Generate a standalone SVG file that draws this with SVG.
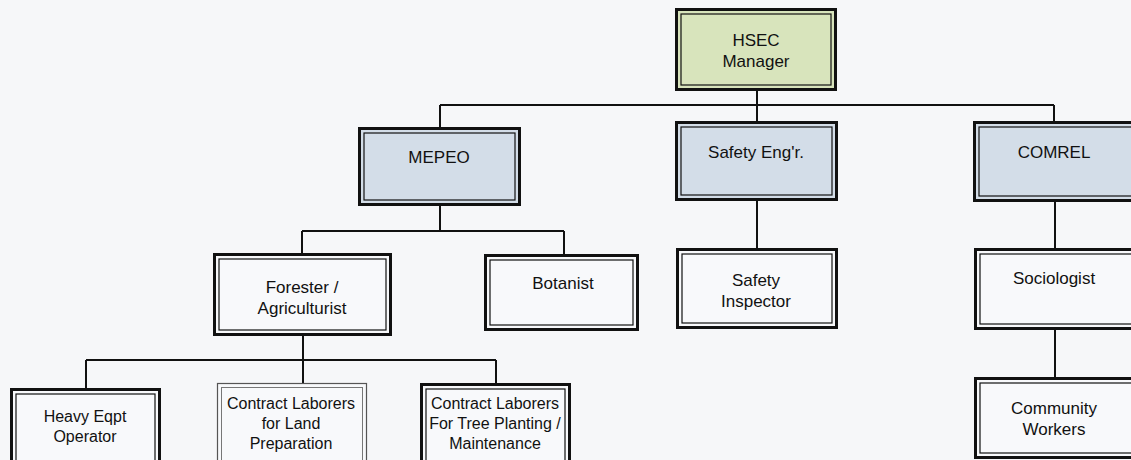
<svg xmlns="http://www.w3.org/2000/svg" width="1131" height="460" viewBox="0 0 1131 460">
<style>
.bg{fill:#f6f7f9}
.o{stroke:#111;stroke-width:3}
.i{fill:none;stroke:#111;stroke-width:1.2}
.g{fill:#d8e4bc}
.b{fill:#d3dde8}
.w{fill:#f8f9fb}
.lo{stroke:#555;stroke-width:1.2}
.li{fill:none;stroke:#777;stroke-width:1}
.c{fill:none;stroke:#111;stroke-width:2}
text{font-family:"Liberation Sans",Arial,sans-serif;font-size:17px;fill:#111;text-anchor:middle}
text.s{font-size:16px}
</style>
<rect class="bg" x="0" y="0" width="1131" height="460"/>
<g id="connectors">
<path class="c" d="M757 90V105M440 105H1054M440 105V127M757 105V121M1054 105V122"/>
<path class="c" d="M440 205V231M302 231H564M302 231V253M564 231V254"/>
<path class="c" d="M757 200V248M1055 201V248M1055 329V377"/>
<path class="c" d="M303 335V383M86 360H496M86 360V388M496 360V383"/>
</g>
<g id="hsec"><rect class="o g" x="676.5" y="9.5" width="159" height="80"/><rect class="i" x="681" y="14" width="150" height="71"/><text x="756" y="46">HSEC</text><text x="756" y="67">Manager</text></g>
<g id="mepeo"><rect class="o b" x="359.5" y="128.5" width="160" height="76"/><rect class="i" x="364" y="133" width="151" height="67"/><text x="439" y="163">MEPEO</text></g>
<g id="safety-engr"><rect class="o b" x="676.5" y="122.5" width="160" height="77"/><rect class="i" x="681" y="127" width="151" height="68"/><text x="756" y="158">Safety Eng'r.</text></g>
<g id="comrel"><rect class="o b" x="974.5" y="122.5" width="160" height="78"/><rect class="i" x="979" y="127" width="160" height="69"/><text x="1054" y="158">COMREL</text></g>
<g id="forester"><rect class="o w" x="214.5" y="254.5" width="176" height="80"/><rect class="i" x="219" y="259" width="167" height="71"/><text x="302" y="293">Forester /</text><text x="302" y="314">Agriculturist</text></g>
<g id="botanist"><rect class="o w" x="485.5" y="255.5" width="152" height="74"/><rect class="i" x="490" y="260" width="143" height="65"/><text x="563" y="289">Botanist</text></g>
<g id="safety-inspector"><rect class="o w" x="677.5" y="249.5" width="159" height="78"/><rect class="i" x="682" y="254" width="150" height="69"/><text x="756" y="286">Safety</text><text x="756" y="307">Inspector</text></g>
<g id="sociologist"><rect class="o w" x="975.5" y="249.5" width="160" height="79"/><rect class="i" x="980" y="254" width="160" height="70"/><text x="1054" y="284">Sociologist</text></g>
<g id="community-workers"><rect class="o w" x="975.5" y="378.5" width="160" height="79"/><rect class="i" x="980" y="383" width="160" height="70"/><text x="1054" y="414">Community</text><text x="1054" y="435">Workers</text></g>
<g id="heavy-eqpt"><rect class="o w" x="11.5" y="389.5" width="148" height="74"/><rect class="i" x="16" y="394" width="139" height="70"/><text class="s" x="85" y="422">Heavy Eqpt</text><text class="s" x="85" y="442">Operator</text></g>
<g id="contract-land"><rect class="lo w" x="217.5" y="383.5" width="149" height="80"/><rect class="li" x="221.5" y="387.5" width="141" height="76"/><text class="s" x="291" y="409">Contract Laborers</text><text class="s" x="291" y="429">for Land</text><text class="s" x="291" y="449">Preparation</text></g>
<g id="contract-tree"><rect class="o w" x="421.5" y="384.5" width="148" height="80"/><rect class="i" x="426" y="389" width="139" height="75"/><text class="s" x="495" y="409">Contract Laborers</text><text class="s" x="495" y="429">For Tree Planting /</text><text class="s" x="495" y="449">Maintenance</text></g>
</svg>
